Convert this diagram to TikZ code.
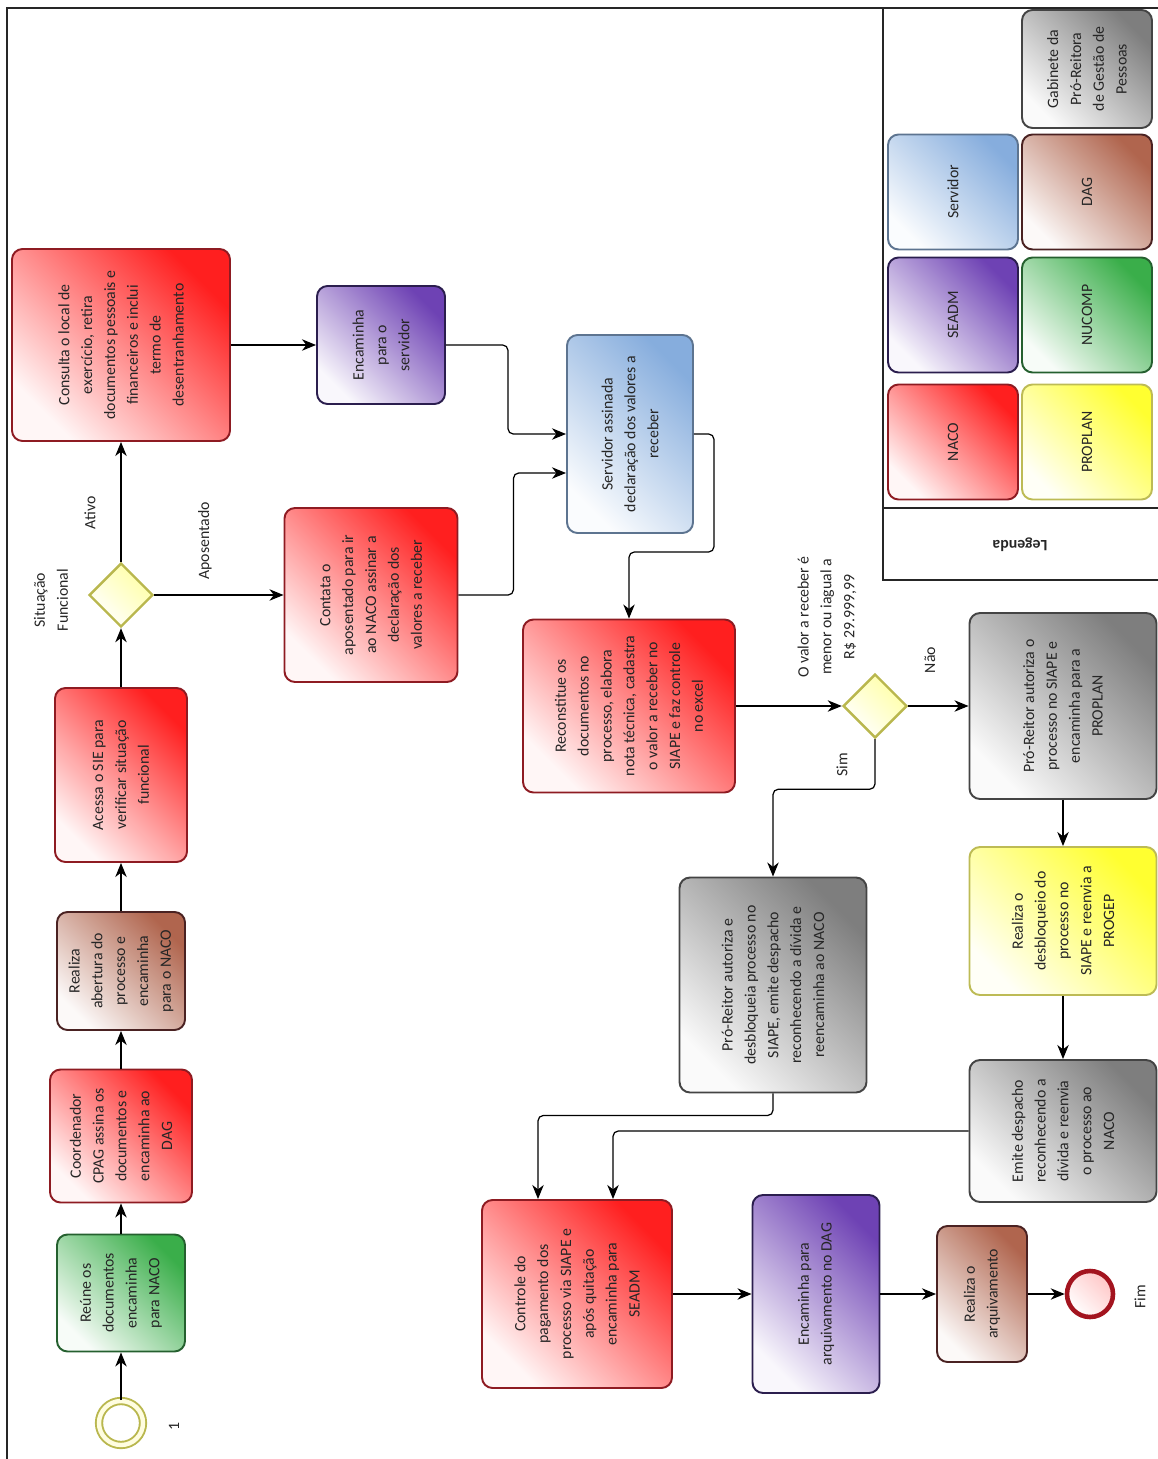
\documentclass[tikz,border=0pt]{standalone}
\usepackage{fontspec}
\setmainfont{Carlito}
\usetikzlibrary{arrows.meta,positioning,calc,shapes.geometric}
\definecolor{Ink}{HTML}{262626}
\definecolor{Naco}{HTML}{FF1F1F}
\definecolor{NacoLine}{HTML}{8E1B22}
\definecolor{Dag}{HTML}{B0654E}
\definecolor{DagLine}{HTML}{4A2222}
\definecolor{Nucomp}{HTML}{3AAE4A}
\definecolor{NucompLine}{HTML}{25602F}
\definecolor{Seadm}{HTML}{6E42B4}
\definecolor{SeadmLine}{HTML}{2B1E4E}
\definecolor{Serv}{HTML}{86ADDD}
\definecolor{ServLine}{HTML}{5D7490}
\definecolor{Proplan}{HTML}{FFFF30}
\definecolor{ProplanLine}{HTML}{BDBB55}
\definecolor{Gab}{HTML}{7E7E7E}
\definecolor{GabLine}{HTML}{444444}
\definecolor{Gate}{HTML}{B9B74E}
\definecolor{EndLine}{HTML}{A3141F}
\tikzset{
 sz/.style 2 args={minimum width=#2*0.02cm,minimum height=#1*0.02cm},
 task/.style={draw,rounded corners=6pt,line width=1.1pt,rotate=90,align=center,text=Ink,inner sep=2pt,font=\fontsize{9}{13}\selectfont},
 grad/.style={top color=#1,bottom color=#1!4,shading angle=-45},
 naco/.style={task,grad=Naco,draw=NacoLine},
 dag/.style={task,grad=Dag,draw=DagLine},
 nucomp/.style={task,grad=Nucomp,draw=NucompLine},
 seadm/.style={task,grad=Seadm,draw=SeadmLine},
 serv/.style={task,grad=Serv,draw=ServLine},
 proplan/.style={task,grad=Proplan,draw=ProplanLine},
 gab/.style={task,grad=Gab,draw=GabLine},
 gate/.style={diamond,draw=Gate,line width=1.4pt,top color=yellow!35,bottom color=white,shading angle=-45,minimum width=64*0.02cm,minimum height=64*0.02cm,inner sep=0pt},
 startev/.style={circle,draw=Gate,line width=1.1pt,double=yellow!12,double distance=2.5pt,fill=white,minimum size=44*0.02cm,inner sep=0pt},
 endev/.style={circle,draw=EndLine,line width=2.6pt,top color=Naco!25,bottom color=white,shading angle=-45,minimum size=46*0.02cm,inner sep=0pt},
 lbl/.style={rotate=90,align=center,text=Ink,font=\fontsize{9}{13}\selectfont},
 flow/.style={-{Stealth[length=8pt,width=6.5pt,inset=2.5pt]},line width=0.7pt,rounded corners=3pt},
 frame/.style={draw=Ink,line width=0.9pt}
}
\begin{document}
\begin{tikzpicture}[x=0.02cm,y=-0.02cm]
\useasboundingbox (0,0) rectangle (1158,1459);
\draw[frame] (7,8) rectangle (1180,1480);
% legenda
\draw[frame] (883,8) rectangle (1180,580);
\draw[frame] (883,508) -- (1180,508);
\node[rotate=180,text=Ink,font=\fontsize{9}{11}\selectfont\bfseries] (legenda) at (1020,545) {Legenda};
\node[naco,sz={130}{115}] (lgnaco) at (953,442) {NACO};
\node[seadm,sz={130}{115}] (lgseadm) at (953,315) {SEADM};
\node[serv,sz={130}{115}] (lgserv) at (953,192) {Servidor};
\node[proplan,sz={130}{115}] (lgproplan) at (1087,442) {PROPLAN};
\node[nucomp,sz={130}{115}] (lgnucomp) at (1087,315) {NUCOMP};
\node[dag,sz={130}{115}] (lgdag) at (1087,192) {DAG};
\node[gab,sz={130}{118}] (lggab) at (1087,69) {Gabinete da\\Pró-Reitora\\de Gestão de\\Pessoas};
% fluxo
\node[startev] (inicio) at (121,1423) {};
\node[lbl] (um) at (174,1426) {1};
\node[nucomp,sz={128}{117}] (reune) at (121,1293) {Reúne os\\documentos\\encaminha\\para NACO};
\node[naco,sz={142}{133}] (cpag) at (121,1136) {Coordenador\\CPAG assina os\\documentos e\\encaminha ao\\DAG};
\node[dag,sz={128}{118}] (abertura) at (121,971) {Realiza\\abertura do\\processo e\\encaminha\\para o NACO};
\node[naco,sz={132}{174}] (sie) at (121,775) {Acessa o SIE para\\verificar situação\\funcional};
\node[gate] (situacao) at (121,595) {};
\node[lbl] (sitlbl) at (51,600) {Situação\\Funcional};
\node[lbl] (ativo) at (90,513) {Ativo};
\node[lbl] (aposent) at (205,541) {Aposentado};
\node[naco,sz={218}{192}] (consulta) at (121,345) {Consulta o local de\\exercício, retira\\documentos pessoais e\\financeiros e inclui\\termo de\\desentranhamento};
\node[naco,sz={173}{174}] (contata) at (371,595) {Contata o\\aposentado para ir\\ao NACO assinar a\\declaração dos\\valores a receber};
\node[seadm,sz={128}{118}] (paraserv) at (381,345) {Encaminha\\para o\\servidor};
\node[serv,sz={126}{198}] (assina) at (630,434) {Servidor assinada\\declaração dos valores a\\receber};
\node[naco,sz={212}{173}] (reconst) at (629,706) {Reconstitue os\\documentos no\\processo, elabora\\nota técnica, cadastra\\o valor a receber no\\SIAPE e faz controle\\no excel};
\node[gate] (valor) at (875,706) {};
\node[lbl] (valorlbl) at (827,617) {O valor a receber é\\menor ou iagual a\\R\$ 29.999,99};
\node[lbl] (nao) at (930,660) {Não};
\node[lbl] (sim) at (842,765) {Sim};
\node[gab,sz={187}{186}] (autoriza) at (1063,706) {Pró-Reitor autoriza o\\processo no SIAPE e\\encaminha para a\\PROPLAN};
\node[proplan,sz={187}{148}] (desbloq) at (1063,921) {Realiza o\\desbloqueio do\\processo no\\SIAPE e reenvia a\\PROGEP};
\node[gab,sz={187}{142}] (despacho) at (1063,1131) {Emite despacho\\reconhecendo a\\dívida e reenvia\\o processo ao\\NACO};
\node[gab,sz={187}{215}] (desbpro) at (773,985) {Pró-Reitor autoriza e\\desbloqueia processo no\\SIAPE, emite despacho\\reconhecendo a dívida e\\reencaminha ao NACO};
\node[naco,sz={190}{188}] (controle) at (577,1294) {Controle do\\pagamento dos\\processo via SIAPE e\\após quitação\\encaminha para\\SEADM};
\node[seadm,sz={127}{198}] (arquiva) at (816,1294) {Encaminha para\\arquivamento no DAG};
\node[dag,sz={90}{136}] (realiza) at (982,1294) {Realiza o\\arquivamento};
\node[endev] (fim) at (1090,1294) {};
\node[lbl] (fimlbl) at (1140,1297) {Fim};
% conectores
\foreach \a/\b in {inicio/reune,reune/cpag,cpag/abertura,abertura/sie,sie/situacao,situacao/consulta,situacao/contata,consulta/paraserv,reconst/valor,valor/autoriza,autoriza/desbloq,desbloq/despacho,controle/arquiva,arquiva/realiza,realiza/fim}
  \draw[flow] (\a) -- (\b);
\draw[flow] (paraserv.south) -- ++(62,0) |- (assina);
\draw[flow] (contata.south) -- ++(55,0) |- ($(assina.north)+(0,39)$);
\draw[flow] (assina.south) -- ++(20,0) -- ++(0,118) -| (reconst);
\draw[flow] (valor.south) -- ++(0,50) -| (desbpro);
\draw[flow] (despacho) -| ($(controle.east)+(36,0)$);
\draw[flow] (desbpro.west) -- ++(0,22) -| ($(controle.east)+(-39,0)$);
\end{tikzpicture}
\end{document}
